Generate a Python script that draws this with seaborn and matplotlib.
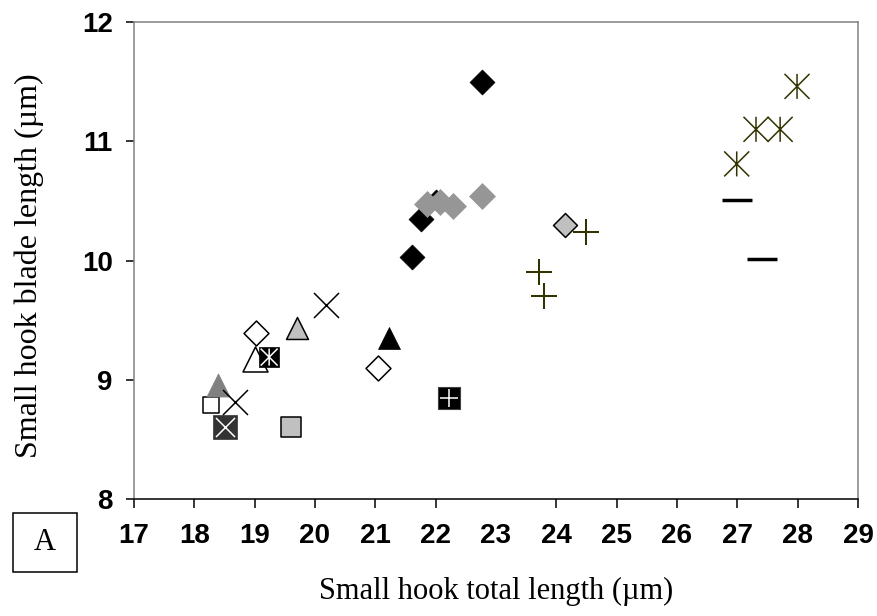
import matplotlib
matplotlib.use("Agg")
import matplotlib.pyplot as plt
from matplotlib.path import Path
from matplotlib.markers import MarkerStyle
import seaborn as sns

# data: small hook total length (x) vs blade length (y)
open_sq_x = [18.28]
open_sq_y = [8.79]
dkgray_tri_x = [18.39]
dkgray_tri_y = [8.96]
dark_sq_x = [18.51]
dark_sq_y = [8.60]
cross_x = [18.67, 20.18]
cross_y = [8.81, 9.63]
open_dia_x = [19.03, 21.05]
open_dia_y = [9.39, 9.10]
open_tri_x = [19.00]
open_tri_y = [9.17]
star_sq_x = [19.24]
star_sq_y = [9.19]
ltgray_tri_x = [19.70]
ltgray_tri_y = [9.43]
ltgray_sq_x = [19.60]
ltgray_sq_y = [8.60]
black_tri_x = [21.22]
black_tri_y = [9.35]
plus_sq_x = [22.22]
plus_sq_y = [8.85]
black_dia_x = [21.60, 21.75, 22.76]
black_dia_y = [10.03, 10.35, 11.50]
small_dia_x = [22.00]
small_dia_y = [10.55]
gray_dia_x = [21.85, 22.08, 22.28, 22.76]
gray_dia_y = [10.47, 10.49, 10.46, 10.54]
ltgray_dia_x = [24.15]
ltgray_dia_y = [10.30]
olive_plus_x = [23.71, 23.80, 24.50]
olive_plus_y = [9.90, 9.70, 10.24]
olive_star_x = [26.99, 27.31, 27.71, 27.99]
olive_star_y = [10.81, 11.10, 11.10, 11.46]
dash_x = [27.00, 27.41]
dash_y = [10.51, 10.01]

x_ticks = list(range(17, 30))
y_ticks = [8, 9, 10, 11, 12]

# excel-style "star": vertical bar plus an X
star_path = Path([(0, -1), (0, 1), (-1, -1), (1, 1), (-1, 1), (1, -1)],
                 [Path.MOVETO, Path.LINETO, Path.MOVETO, Path.LINETO, Path.MOVETO, Path.LINETO])
star = MarkerStyle(star_path, fillstyle="none")

sns.set_theme(style="ticks")
plt.rcParams["font.family"] = ["Liberation Sans", "DejaVu Sans"]
plt.rcParams["text.color"] = "black"
plt.rcParams["axes.labelcolor"] = "black"
plt.rcParams["xtick.color"] = "black"
plt.rcParams["ytick.color"] = "black"

fig = plt.figure(figsize=(8.77, 6.16), dpi=100)
ax = fig.add_axes([0.1528, 0.1899, 0.8255, 0.7744])

olive = "#333300"

def pts(x, y, marker, size, **kw):
    sns.scatterplot(x=x, y=y, marker=marker, s=size ** 2, ax=ax, legend=False, **kw)

pts(open_sq_x, open_sq_y, "s", 12.2, color="white", edgecolor="black", linewidth=1.1)
pts(dkgray_tri_x, dkgray_tri_y, "^", 16.6, color="#808080", edgecolor="#808080", linewidth=0.5)
pts(dark_sq_x, dark_sq_y, "s", 16.6, color="#333333", edgecolor="#333333", linewidth=0.5)
pts(dark_sq_x, dark_sq_y, "x", 13.7, color="white", linewidth=1.1)
pts(cross_x, cross_y, "x", 18, color="black", linewidth=1.1)
pts(open_dia_x, open_dia_y, "D", 12.7, color="white", edgecolor="black", linewidth=1.1)
pts(open_tri_x, open_tri_y, "^", 18, color="white", edgecolor="black", linewidth=1.1)
pts(star_sq_x, star_sq_y, "s", 15.1, color="black", edgecolor="black", linewidth=0.5)
pts(star_sq_x, star_sq_y, star, 12.2, color="white", linewidth=1.1)
pts(ltgray_tri_x, ltgray_tri_y, "^", 15.8, color="#c0c0c0", edgecolor="black", linewidth=1.1)
pts(ltgray_sq_x, ltgray_sq_y, "s", 14.4, color="#c0c0c0", edgecolor="black", linewidth=1.1)
pts(black_tri_x, black_tri_y, "^", 15.8, color="black", edgecolor="black", linewidth=0.5)
pts(plus_sq_x, plus_sq_y, "s", 15.8, color="black", edgecolor="#404040", linewidth=0.8)
pts(plus_sq_x, plus_sq_y, "+", 13, color="white", linewidth=1.1)
pts(small_dia_x, small_dia_y, "D", 5.6, color="black", edgecolor="black", linewidth=0.5)
pts(black_dia_x, black_dia_y, "D", 12.7, color="black", edgecolor="black", linewidth=0.5)
pts(gray_dia_x, gray_dia_y, "D", 13.2, color="#969696", edgecolor="#969696", linewidth=0.5)
pts(ltgray_dia_x, ltgray_dia_y, "D", 12.2, color="#c0c0c0", edgecolor="black", linewidth=1.1)
pts(olive_plus_x, olive_plus_y, "+", 18.7, color=olive, linewidth=1.45)
pts(olive_star_x, olive_star_y, star, 18, color=olive, linewidth=1.1)
pts(dash_x, dash_y, "_", 20.9, color="black", linewidth=2.5)

ax.set_xlim(17, 29)
ax.set_ylim(8, 12)
ax.set_xticks(x_ticks)
ax.set_yticks(y_ticks)
ax.tick_params(axis="both", which="major", labelsize=20, color="black",
               labelcolor="black", width=1.1)
ax.tick_params(axis="x", length=6.5, pad=11)
ax.tick_params(axis="y", length=5.8, pad=9.5)
for lab in ax.get_xticklabels() + ax.get_yticklabels():
    lab.set_fontweight("bold")
# the 23 tick mark is missing in the original
ax.xaxis.get_major_ticks()[6].tick1line.set_visible(False)

for side in ["left", "top", "right"]:
    ax.spines[side].set_color("#808080")
    ax.spines[side].set_linewidth(1.1)
ax.spines["bottom"].set_color("black")
ax.spines["bottom"].set_linewidth(1.1)
ax.grid(False)

serif = ["Liberation Serif", "DejaVu Serif"]
ax.set_xlabel("Small hook total length (µm)", family=serif, fontsize=22, color="black")
ax.set_ylabel("Small hook blade length (µm)", family=serif, fontsize=23, color="black")
ax.xaxis.set_label_coords(0.5, -0.163)
ax.yaxis.set_label_coords(-0.125, 0.49)

# panel letter in a box, lower left
fig.add_artist(plt.Rectangle((13 / 877, 1 - 572 / 616), 64 / 877, 59 / 616,
                             transform=fig.transFigure, fill=False, ec="black", lw=1.1))
fig.text(45 / 877, 1 - 543 / 616, "A", family=serif, fontsize=22, ha="center", va="center",
         color="black")

fig.savefig("out.png", dpi=100)
